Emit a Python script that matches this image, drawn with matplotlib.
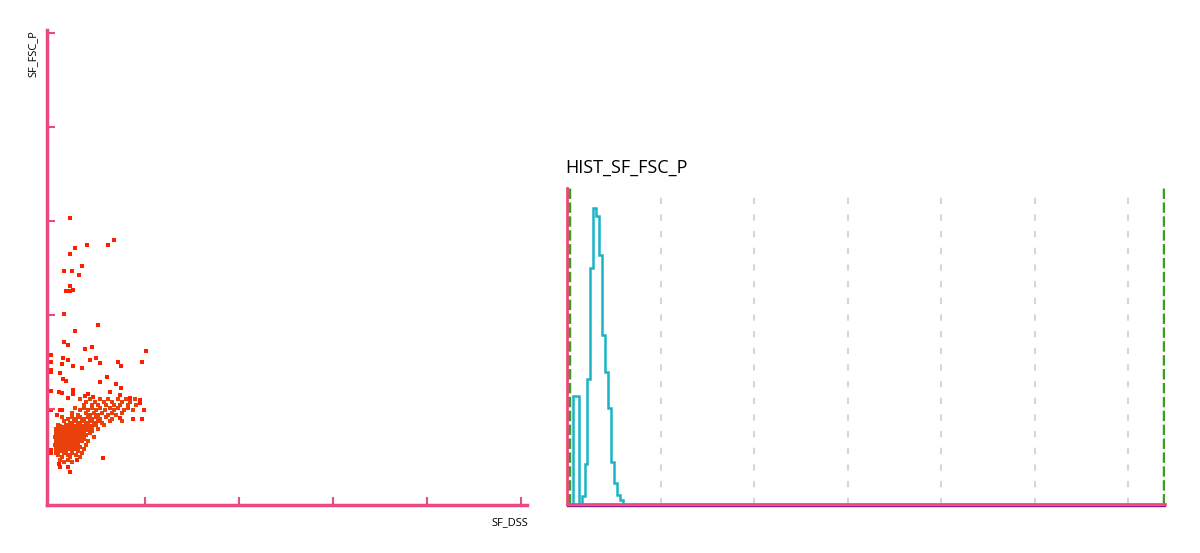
import matplotlib.pyplot as plt

plt.rcParams['font.family'] = ['Open Sans', 'DejaVu Sans']

PINK = '#ec4a7c'

# scattergram SF_DSS (x) vs SF_FSC_P (y), sparse outliers
sparse_x = [40, 135, 122, 76, 51, 40, 67, 28, 45, 60, 40, 47, 32, 40, 28, 99, 51,
            28, 37, 87, 72, 202, 0, 26, 95, 83, 0, 37, 193, 143, 23, 104, 150, 47,
            67, 0, 0, 19, 119, 25, 32, 104, 138, 149, 47, 0, 126, 16, 23, 79, 47,
            147, 72, 90, 37, 168, 189, 189, 0, 19, 23, 198, 12, 147, 175, 193, 111,
            55, 0, 0, 16, 19, 37, 40]
sparse_y = [607, 560, 548, 548, 543, 529, 505, 493, 493, 485, 462, 453, 450, 450, 403, 379, 367,
            343, 336, 333, 328, 324, 315, 309, 309, 304, 301, 304, 300, 301, 295, 297, 292, 292,
            288, 283, 278, 277, 269, 263, 260, 257, 253, 245, 240, 238, 237, 236, 235, 233, 231,
            230, 228, 226, 223, 223, 219, 213, 198, 198, 198, 198, 187, 182, 178, 178, 96,
            92, 114, 106, 84, 77, 77, 67]

# dense core, row by row (y level -> x values)
dense_rows = {
    221: [62, 83, 104, 121, 143, 160, 179],
    215: [74, 94, 113, 130, 151, 168],
    209: [70, 87, 100, 117, 134, 147, 164, 181],
    203: [51, 70, 87, 104, 126, 143, 164],
    198: [62, 79, 96, 115, 134, 155, 174],
    192: [45, 74, 92, 109, 130, 151],
    187: [57, 83, 100, 121, 138],
    183: [23, 45, 62, 79, 96, 117],
    179: [36, 53, 70, 87, 104, 130],
    175: [28, 49, 66, 83, 100, 126, 151],
    171: [40, 57, 74, 92, 109],
    166: [15, 32, 45, 62, 79, 96, 113],
    164: [19, 36, 49, 66, 83],
    162: [23, 40, 53, 70, 87],
    158: [11, 28, 36, 49, 57, 79, 100],
    156: [15, 26, 40, 53, 66, 74],
    154: [19, 32, 45, 62, 70, 87],
    151: [19, 32, 45, 57, 70],
    149: [11, 23, 40, 53, 66, 83],
    147: [11, 23, 32, 45, 62],
    145: [15, 28, 36, 49, 57, 74],
    143: [19, 28, 40, 53, 66],
    141: [9, 19, 32, 45, 62, 92],
    138: [11, 26, 36, 49, 57],
    136: [15, 23, 40, 53, 70],
    134: [19, 32, 45, 62],
    132: [11, 28, 36, 49, 66, 79],
    130: [15, 26, 40, 53],
    128: [19, 32, 45, 57],
    126: [13, 28, 36, 49],
    124: [9, 23, 40, 53, 74],
    121: [19, 32, 45, 57],
    119: [15, 28, 36, 62],
    117: [23, 36, 53],
    115: [11, 23, 40, 49, 70],
    113: [15, 28, 45],
    111: [19, 32, 57],
    107: [11, 28, 45, 66],
    102: [15, 36, 53],
    98: [23, 40, 62],
    92: [19, 36],
    88: [28, 45],
}

# histogram of SF_FSC_P
hist_edges = [10, 15, 20, 25, 30, 35, 40, 45, 50, 55, 60, 65, 70, 75, 80, 85, 90, 95]
hist_counts = [108, 108, 0, 8, 40, 125, 236, 296, 288, 249, 169, 132, 96, 42, 21, 9, 4]
grid_x = [160, 320, 480, 640, 800, 960]
gate_x = [3.5, 1021]

fig = plt.figure(figsize=(12, 5.53), dpi=100)

# ---- scattergram ----
ax = fig.add_axes([47 / 1200, 48 / 553, 480 / 1200, 475 / 553])
dense_x = [x for y, xs in dense_rows.items() for x in xs]
dense_y = [y for y, xs in dense_rows.items() for x in xs]
ax.scatter(sparse_x, sparse_y, s=5, marker='s', color='#ff1e00', linewidths=0)
ax.scatter(dense_x, dense_y, s=5.5, marker='s', color='#ea400a', linewidths=0)
ax.set_xlim(-8.5, 1013)
ax.set_ylim(-4, 1006)
ax.set_xticks([200, 400, 600, 800, 1000])
ax.set_yticks([200, 400, 600, 800, 1000])
ax.tick_params(direction='in', length=6, width=1.5, color=PINK,
               labelbottom=False, labelleft=False)
for s in ['top', 'right']:
    ax.spines[s].set_visible(False)
for s in ['left', 'bottom']:
    ax.spines[s].set_color(PINK)
    ax.spines[s].set_linewidth(2.5)
fig.text(33 / 1200, 1 - 30 / 553, 'SF_FSC_P', rotation=90, ha='center', va='top', fontsize=8)
fig.text(528 / 1200, 1 - 523 / 553, 'SF_DSS', ha='right', va='center', fontsize=8)

# ---- histogram ----
hx = fig.add_axes([567 / 1200, 49 / 553, 598 / 1200, 316 / 553])
hx.vlines(grid_x, 0, 309, colors='#d6d6d6', linewidth=1.5, linestyles=(0, (3, 5)))
hx.stairs(hist_counts, hist_edges, color='#1ab4c6', linewidth=1.8, baseline=0)
hx.vlines(gate_x, 0, 316, colors='#3a9e1e', linewidth=2.5, linestyles=(0, (3, 1)))
hx.set_xlim(0, 1023)
hx.set_ylim(0, 316)
hx.set_xticks([])
hx.set_yticks([])
for s in ['top', 'right']:
    hx.spines[s].set_visible(False)
for s in ['left', 'bottom']:
    hx.spines[s].set_color(PINK)
    hx.spines[s].set_linewidth(2)
hx.plot([0, 1], [-0.007, -0.007], transform=hx.transAxes, color='#8e1a8e',
        linewidth=1, clip_on=False)
fig.text(565 / 1200, 1 - 168 / 553, 'HIST_SF_FSC_P', ha='left', va='center', fontsize=13)

fig.savefig('out.png', dpi=100)
